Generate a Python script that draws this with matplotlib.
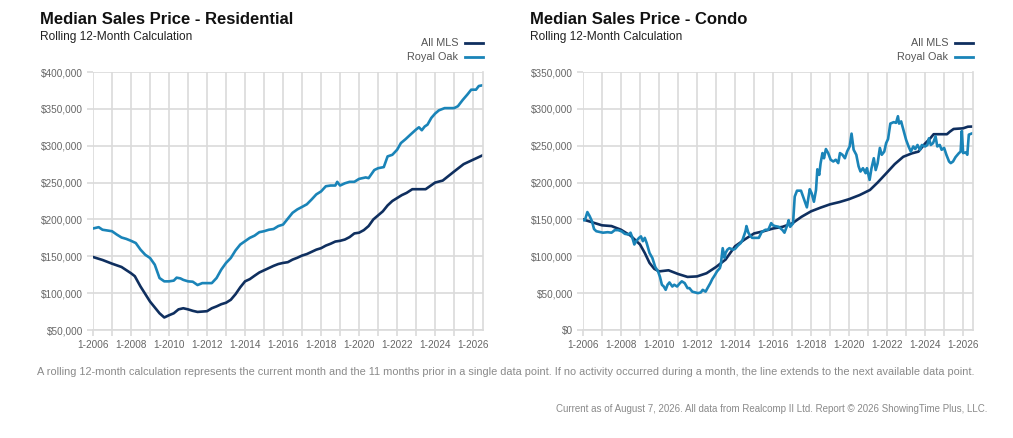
import matplotlib
matplotlib.use("Agg")
import matplotlib.pyplot as plt
from matplotlib.ticker import FuncFormatter

plt.rcParams["font.family"] = ["Liberation Sans", "DejaVu Sans"]

NAVY = "#0f2f5f"
BLUE = "#1a84b8"
GRID = "#dadada"
TXT = "#666666"

# Residential - All MLS (decimal year, price in $1000s)
res_mls_t = [2006.0, 2006.5, 2007.0, 2007.5, 2008.0, 2008.2, 2008.5, 2009.0, 2009.5, 2009.75,
             2010.0, 2010.25, 2010.5, 2010.75, 2011.0, 2011.25, 2011.5, 2012.0, 2012.25, 2012.5,
             2012.75, 2013.0, 2013.25, 2013.5, 2013.75, 2014.0, 2014.25, 2014.5, 2014.75, 2015.0,
             2015.25, 2015.5, 2015.75, 2016.0, 2016.25, 2016.5, 2016.75, 2017.0, 2017.25, 2017.5,
             2017.75, 2018.0, 2018.25, 2018.5, 2018.75, 2019.0, 2019.25, 2019.5, 2019.75, 2020.0,
             2020.25, 2020.5, 2020.75, 2021.0, 2021.25, 2021.5, 2021.75, 2022.0, 2022.25, 2022.5,
             2022.8, 2023.5, 2024.0, 2024.4, 2025.0, 2025.5, 2026.0, 2026.5]
res_mls_v = [149, 145, 140, 135.5, 127, 123, 109, 88.6, 72.7, 67,
             70, 72.7, 78, 79.5, 78, 76, 74.5, 75.5, 79.5, 82,
             85, 87, 91, 98.6, 108, 116, 119, 123.6, 128, 131,
             134, 137, 139.5, 141, 142, 145.5, 148, 151, 153, 156,
             159, 161, 164.5, 167, 170, 171, 172.7, 176, 181, 182,
             185.5, 191, 200, 205.5, 211, 219, 225, 229, 233, 236,
             241, 241, 250, 252.7, 265, 275, 281, 287]

# Residential - Royal Oak
res_ro_t = [2006.0, 2006.3, 2006.5, 2007.0, 2007.25, 2007.5, 2007.75, 2008.0, 2008.25, 2008.5,
            2008.75, 2009.0, 2009.25, 2009.5, 2009.75, 2010.0, 2010.25, 2010.4, 2010.6, 2010.75,
            2011.0, 2011.25, 2011.5, 2011.75, 2012.0, 2012.25, 2012.5, 2012.75, 2013.0, 2013.25,
            2013.5, 2013.75, 2014.0, 2014.25, 2014.5, 2014.75, 2015.0, 2015.25, 2015.5, 2015.75,
            2016.0, 2016.25, 2016.5, 2016.75, 2017.0, 2017.25, 2017.5, 2017.75, 2018.0, 2018.25,
            2018.5, 2018.75, 2018.85, 2019.0, 2019.25, 2019.5, 2019.75, 2020.0, 2020.35, 2020.5,
            2020.8, 2021.0, 2021.3, 2021.5, 2021.75, 2022.0, 2022.2, 2022.45, 2022.7, 2023.0,
            2023.15, 2023.3, 2023.45, 2023.6, 2023.8, 2024.0, 2024.2, 2024.5, 2025.0, 2025.2,
            2025.45, 2025.7, 2025.9, 2026.15, 2026.3, 2026.5]
res_ro_v = [187.7, 189.5, 186, 184, 179.5, 175.5, 173.6, 171, 168, 159,
            152, 147.7, 138.6, 120.5, 116, 116, 117, 121, 120, 118,
            116, 115.5, 111, 113.6, 113.6, 113.6, 120.5, 132, 141, 147.7,
            158, 166, 170.5, 175, 178, 182.7, 184, 186, 187, 191,
            193, 201, 209, 213.6, 217, 220.5, 227, 234, 238, 245,
            246, 246, 251, 246, 249, 251, 251, 255, 257, 256,
            267, 269.5, 271, 285.5, 287.7, 294.5, 303.6, 309, 315, 322,
            325, 321, 326, 328.6, 337.7, 343.6, 348, 351, 351, 353.6,
            362, 369.5, 376, 376, 381, 382]

# Condo - All MLS
con_mls_t = [2006.0, 2006.5, 2007.0, 2007.5, 2008.0, 2008.5, 2009.0, 2009.25, 2009.5, 2009.75,
             2010.0, 2010.5, 2011.0, 2011.5, 2012.0, 2012.5, 2013.0, 2013.5, 2014.0, 2014.5,
             2015.0, 2015.5, 2016.0, 2016.5, 2017.0, 2017.5, 2018.0, 2018.5, 2019.0, 2019.5,
             2020.0, 2020.55, 2021.1, 2021.5, 2021.95, 2022.4, 2022.85, 2023.3, 2023.65, 2024.0,
             2024.27, 2024.45, 2025.15, 2025.3, 2025.5, 2026.0, 2026.25, 2026.5]
con_mls_v = [150, 146, 142, 141, 136, 128, 116, 104.5, 91, 83,
             79.5, 81, 76, 72, 72.7, 77, 85.5, 95.5, 113.6, 122.7,
             131, 134, 137.7, 140, 144.5, 153.6, 161, 166, 170.5, 173.6,
             177.5, 183, 190, 200, 212.4, 225, 235, 239.6, 242, 253,
             260, 265.6, 265.6, 269, 272.7, 273.6, 275.8, 276]

# Condo - Royal Oak
con_ro_t = [2006.0, 2006.1, 2006.23, 2006.35, 2006.47, 2006.58, 2006.7, 2006.88, 2007.05, 2007.3,
            2007.5, 2007.67, 2007.85, 2008.05, 2008.2, 2008.4, 2008.5, 2008.6, 2008.7, 2008.8,
            2008.95, 2009.05, 2009.15, 2009.25, 2009.35, 2009.4, 2009.5, 2009.65, 2009.8, 2009.95,
            2010.05, 2010.15, 2010.25, 2010.35, 2010.45, 2010.55, 2010.7, 2010.8, 2010.95, 2011.1,
            2011.2, 2011.35, 2011.5, 2011.6, 2011.75, 2011.9, 2012.05, 2012.2, 2012.3, 2012.45,
            2012.55, 2012.7, 2012.8, 2012.95, 2013.05, 2013.2, 2013.25, 2013.35, 2013.45, 2013.5,
            2013.6, 2013.7, 2013.9, 2014.0, 2014.15, 2014.3, 2014.4, 2014.55, 2014.6, 2014.7,
            2014.8, 2014.9, 2015.05, 2015.25, 2015.4, 2015.6, 2015.75, 2015.9, 2016.0, 2016.1,
            2016.3, 2016.5, 2016.6, 2016.75, 2016.82, 2016.9, 2017.05, 2017.14, 2017.26, 2017.47,
            2017.58, 2017.7, 2017.78, 2017.93, 2018.03, 2018.15, 2018.26, 2018.33, 2018.43, 2018.5,
            2018.6, 2018.68, 2018.78, 2018.9, 2019.03, 2019.17, 2019.3, 2019.43, 2019.52, 2019.65,
            2019.78, 2019.9, 2020.03, 2020.13, 2020.24, 2020.38, 2020.5, 2020.6, 2020.73, 2020.87,
            2020.94, 2021.08, 2021.18, 2021.3, 2021.4, 2021.5, 2021.62, 2021.72, 2021.85, 2021.95,
            2022.05, 2022.17, 2022.35, 2022.47, 2022.57, 2022.63, 2022.74, 2022.8, 2023.0, 2023.13,
            2023.25, 2023.38, 2023.48, 2023.6, 2023.73, 2023.83, 2024.0, 2024.12, 2024.2, 2024.3,
            2024.42, 2024.55, 2024.64, 2024.77, 2024.87, 2025.0, 2025.12, 2025.26, 2025.35, 2025.47,
            2025.6, 2025.78, 2025.87, 2025.93, 2026.0, 2026.14, 2026.22, 2026.3, 2026.5]
con_ro_v = [149, 149, 160, 154.5, 147.7, 137, 134, 133, 132, 132.7,
            132, 135.5, 135.5, 133.6, 130.5, 129.5, 132, 125, 116, 120.5,
            125, 127, 120.5, 125, 118, 113.6, 104.5, 97.7, 85.5, 79.5,
            72, 61.4, 59, 54.5, 61.4, 64.5, 59, 61.4, 59, 63.6,
            66, 63.6, 56.8, 56.8, 52, 51, 50, 51, 54.5, 52,
            56.8, 63.6, 69, 75, 79.5, 84, 88.6, 111, 97.7, 104.5,
            109, 111, 109, 110, 114.5, 118, 122.7, 134, 141, 132,
            128, 125, 125, 125, 132.7, 136, 136, 145, 142, 141,
            140, 135.5, 132, 142.3, 149, 140, 144.5, 181, 189, 189,
            181, 172, 166.4, 191, 185.5, 174, 190, 218, 210.5, 226,
            240, 233, 245.5, 240, 231, 228.6, 231, 226.4, 240, 237.7,
            233, 242.3, 249, 266.4, 244.5, 237.7, 222, 215, 219.5, 212.7,
            219.5, 203.6, 219.5, 233, 217, 226, 247, 237.7, 242, 253.6,
            259, 280, 282, 281, 290, 280, 283, 277, 258, 249,
            242, 249, 245.5, 251, 244.5, 251, 249, 251, 260, 251,
            253.6, 262.7, 249, 251, 244.5, 247, 237.7, 228.6, 226.4, 228.6,
            234.5, 240, 242, 270, 240, 241, 237.7, 265, 267]

year_ticks = list(range(2006, 2027))


def style_axes(ax, ymax):
    ax.set_xlim(2006, 2026.52)
    ax.set_ylim(ymax - 350, ymax)
    ax.set_xticks(year_ticks)
    ax.set_xticklabels(["1-%d" % y if y % 2 == 0 else "" for y in year_ticks])
    ax.set_yticks(range(ymax - 350, ymax + 1, 50))
    ax.yaxis.set_major_formatter(FuncFormatter(lambda v, p: "$%s" % format(int(v * 1000), ",")))
    ax.grid(True, color=GRID, linewidth=1.2)
    ax.set_axisbelow(True)
    for side in ["left", "top"]:
        ax.spines[side].set_visible(False)
    for side in ["bottom", "right"]:
        ax.spines[side].set_color(GRID)
        ax.spines[side].set_linewidth(1.2)
    ax.tick_params(axis="both", length=4, width=1.2, color=GRID, labelcolor=TXT,
                   labelsize=7.2, pad=3)


def legend(ax):
    ax.text(0.937, 1.112, "All MLS", transform=ax.transAxes, ha="right", va="center",
            fontsize=7.8, color="#555555")
    ax.text(0.937, 1.058, "Royal Oak", transform=ax.transAxes, ha="right", va="center",
            fontsize=7.8, color="#555555")
    ax.plot([0.954, 1.0], [1.112, 1.112], transform=ax.transAxes, color=NAVY, lw=2,
            clip_on=False)
    ax.plot([0.954, 1.0], [1.058, 1.058], transform=ax.transAxes, color=BLUE, lw=2,
            clip_on=False)


fig = plt.figure(figsize=(10.13, 4.38), dpi=100)
ax1 = fig.add_axes([93 / 1013, 1 - 330 / 438, 390 / 1013, 258 / 438])
ax2 = fig.add_axes([583 / 1013, 1 - 330 / 438, 390 / 1013, 258 / 438])

ax1.plot(res_ro_t, res_ro_v, color=BLUE, lw=1.9)
ax1.plot(res_mls_t, res_mls_v, color=NAVY, lw=1.9)
style_axes(ax1, 400)
legend(ax1)

ax2.plot(con_mls_t, con_mls_v, color=NAVY, lw=1.9)
ax2.plot(con_ro_t, con_ro_v, color=BLUE, lw=1.9)
style_axes(ax2, 350)
legend(ax2)

fig.text(40 / 1013, 1 - 20 / 438, "Median Sales Price - Residential", fontsize=12,
         fontweight="bold", color="#111111", va="center")
fig.text(40 / 1013, 1 - 37 / 438, "Rolling 12-Month Calculation", fontsize=8.6,
         color="#222222", va="center")
fig.text(530 / 1013, 1 - 20 / 438, "Median Sales Price - Condo", fontsize=12,
         fontweight="bold", color="#111111", va="center")
fig.text(530 / 1013, 1 - 37 / 438, "Rolling 12-Month Calculation", fontsize=8.6,
         color="#222222", va="center")

fig.text(506 / 1013, 1 - 372 / 438,
         "A rolling 12-month calculation represents the current month and the 11 months prior "
         "in a single data point. If no activity occurred during a month, the line extends to "
         "the next available data point.", fontsize=7.9, color="#8a8a8a", va="center",
         ha="center")
fig.text(987 / 1013, 1 - 409 / 438,
         "Current as of August 7, 2026. All data from Realcomp II Ltd. Report \u00a9 2026 "
         "ShowingTime Plus, LLC.", fontsize=7.0, color="#8a8a8a", va="center", ha="right")

fig.savefig("out.png", dpi=100)
